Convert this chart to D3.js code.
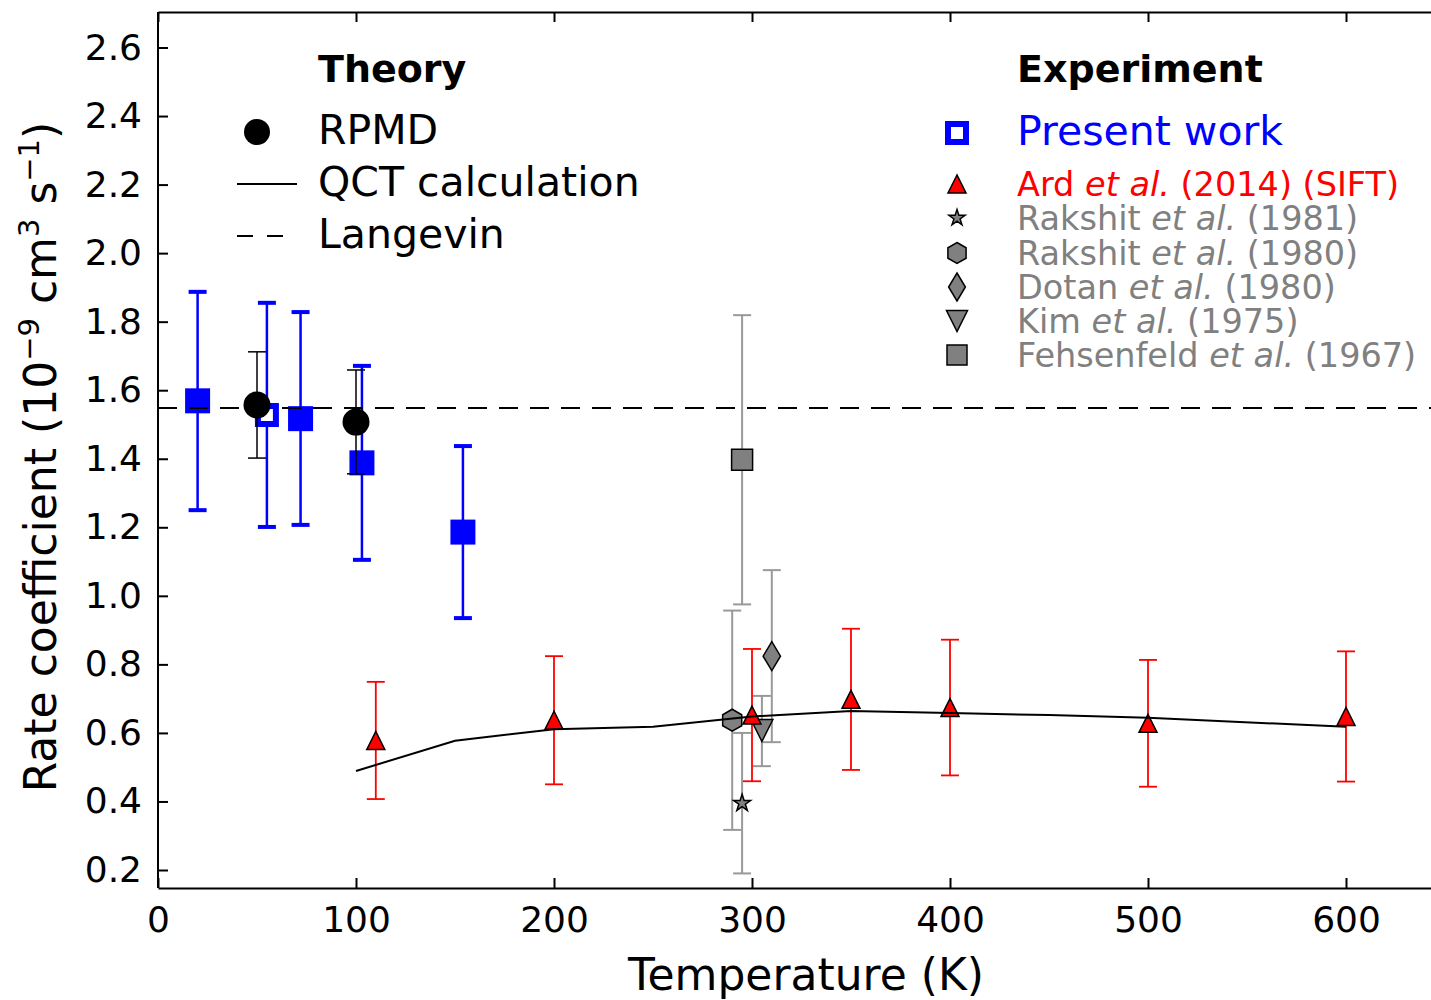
<!DOCTYPE html>
<html>
<head>
<meta charset="utf-8">
<script src="https://cdn.jsdelivr.net/npm/d3@7"></script>
<style>
  body { margin: 0; background: #fff; }
  text { font-family: "DejaVu Sans", sans-serif; }
</style>
</head>
<body>
<svg></svg>
<script>
    const svgWidth = 1431;
    const svgHeight = 1000;

    // --- data (T in K, k in 1e-9 cm3 s-1) ---
    const xTicks = [0, 100, 200, 300, 400, 500, 600];
    const yTicks = [0.2, 0.4, 0.6, 0.8, 1.0, 1.2, 1.4, 1.6, 1.8, 2.0, 2.2, 2.4, 2.6];

    // present work (blue squares); the 55 K point is drawn open
    const presentT = [20, 55, 72, 103, 154];
    const presentK = [1.569, 1.528, 1.517, 1.388, 1.186];
    const presentLo = [1.250, 1.201, 1.207, 1.105, 0.935];
    const presentHi = [1.887, 1.855, 1.828, 1.671, 1.437];
    const presentOpen = [false, true, false, false, false];

    // RPMD
    const rpmdT = [50, 100];
    const rpmdK = [1.557, 1.507];
    const rpmdLo = [1.402, 1.356];
    const rpmdHi = [1.712, 1.659];

    // QCT calculation
    const qctT = [100, 150, 200, 250, 300, 350, 400, 450, 500, 600];
    const qctK = [0.489, 0.577, 0.611, 0.618, 0.648, 0.664, 0.658, 0.652, 0.644, 0.618];

    // Langevin
    const langevinK = 1.548;

    // Ard et al. (2014) SIFT
    const ardT = [110, 200, 300, 350, 400, 500, 600];
    const ardK = [0.578, 0.637, 0.652, 0.698, 0.674, 0.628, 0.648];
    const ardErr = [0.171, 0.187, 0.193, 0.206, 0.198, 0.185, 0.190];

    // older experiments (grey)
    const oldNames = ["Rakshit1981", "Rakshit1980", "Dotan1980", "Kim1975", "Fehsenfeld1967"];
    const oldT = [295, 290, 310, 305, 295];
    const oldK = [0.395, 0.637, 0.824, 0.607, 1.397];
    const oldLo = [0.190, 0.317, 0.573, 0.503, 0.975];
    const oldHi = [0.600, 0.957, 1.075, 0.708, 1.819];
    const oldMarker = ["star", "hexagon", "thinDiamond", "triangleDown", "square"];

    const svg = d3.select("svg")
        .attr("width", svgWidth)
        .attr("height", svgHeight);

    svg.append("rect").attr("width", svgWidth).attr("height", svgHeight).attr("fill", "white");

    const plotLeft = 158, plotTop = 12, plotBottom = 888;
    const x = d3.scaleLinear().domain([0, 655]).range([plotLeft, plotLeft + 655 * 1.98]);
    const y = d3.scaleLinear().domain([0.2, 2.6]).range([870, 47.5]);

    // marker shapes, s = nominal size in px
    function markerPath(type, s) {
        const h = s / 2;
        let pts;
        if (type === "circle") {
            const p = d3.path();
            p.arc(0, 0, h, 0, 2 * Math.PI);
            return p.toString();
        }
        if (type === "square") pts = [[-h, -h], [h, -h], [h, h], [-h, h]];
        if (type === "triangleUp") pts = [[0, -h], [-h, h], [h, h]];
        if (type === "triangleDown") pts = [[0, h], [-h, -h], [h, -h]];
        if (type === "thinDiamond") pts = [[0, -h], [0.6 * h, 0], [0, h], [-0.6 * h, 0]];
        if (type === "hexagon") pts = d3.range(6).map(i => {
            const a = -Math.PI / 2 + i * Math.PI / 3;
            return [h * Math.cos(a), h * Math.sin(a)];
        });
        if (type === "star") pts = d3.range(10).map(i => {
            const a = -Math.PI / 2 + i * Math.PI / 5;
            const r = i % 2 === 0 ? h : h * 0.382;
            return [r * Math.cos(a), r * Math.sin(a)];
        });
        return "M" + pts.map(p => p.join(",")).join("L") + "Z";
    }

    const oldSize = {star: 18, hexagon: 22, thinDiamond: 29, triangleDown: 22, square: 21};

    svg.append("clipPath").attr("id", "plotclip")
        .append("rect").attr("x", plotLeft).attr("y", plotTop).attr("width", svgWidth).attr("height", plotBottom - plotTop);

    const plot = svg.append("g").attr("clip-path", "url(#plotclip)");

    function errorBars(g, xs, lo, hi, color, width, capWidth) {
        const grp = g.append("g").attr("stroke", color).attr("fill", "none");
        xs.forEach((t, i) => {
            grp.append("line")
                .attr("x1", x(t)).attr("x2", x(t))
                .attr("y1", y(lo[i])).attr("y2", y(hi[i]))
                .attr("stroke-width", width);
            [lo[i], hi[i]].forEach(v => {
                grp.append("line")
                    .attr("x1", x(t) - 9).attr("x2", x(t) + 9)
                    .attr("y1", y(v)).attr("y2", y(v))
                    .attr("stroke-width", capWidth);
            });
        });
    }

    // present work
    errorBars(plot, presentT, presentLo, presentHi, "#0000ff", 2.5, 4);
    plot.selectAll(".present")
        .data(presentT)
        .enter().append("path")
        .attr("transform", (d, i) => `translate(${x(d)},${y(presentK[i])})`)
        .attr("d", (d, i) => presentOpen[i] ? markerPath("square", 18) : markerPath("square", 25))
        .attr("fill", (d, i) => presentOpen[i] ? "white" : "#0000ff")
        .attr("stroke", "#0000ff")
        .attr("stroke-width", (d, i) => presentOpen[i] ? 6 : 0);

    // Langevin
    plot.append("line")
        .attr("x1", plotLeft).attr("x2", svgWidth)
        .attr("y1", y(langevinK)).attr("y2", y(langevinK))
        .attr("stroke", "black").attr("stroke-width", 2)
        .attr("stroke-dasharray", "19,12");

    // older experiments
    errorBars(plot, oldT, oldLo, oldHi, "#999999", 2, 2);
    plot.selectAll(".old")
        .data(oldT)
        .enter().append("path")
        .attr("transform", (d, i) => `translate(${x(d)},${y(oldK[i])})`)
        .attr("d", (d, i) => markerPath(oldMarker[i], oldSize[oldMarker[i]]))
        .attr("fill", "#808080")
        .attr("stroke", "black")
        .attr("stroke-width", 1.5);

    // Ard et al.
    errorBars(plot, ardT, ardK.map((k, i) => k - ardErr[i]), ardK.map((k, i) => k + ardErr[i]), "#ff0000", 1.8, 1.8);
    plot.selectAll(".ard")
        .data(ardT)
        .enter().append("path")
        .attr("transform", (d, i) => `translate(${x(d)},${y(ardK[i])})`)
        .attr("d", markerPath("triangleUp", 18))
        .attr("fill", "#ff0000")
        .attr("stroke", "black")
        .attr("stroke-width", 1.5);

    // QCT
    const qctLine = d3.line().x(d => x(d[0])).y(d => y(d[1]));
    plot.append("path")
        .datum(qctT.map((t, i) => [t, qctK[i]]))
        .attr("d", qctLine)
        .attr("fill", "none")
        .attr("stroke", "black")
        .attr("stroke-width", 2);

    // RPMD
    errorBars(plot, rpmdT, rpmdLo, rpmdHi, "black", 1.5, 1.5);
    plot.selectAll(".rpmd")
        .data(rpmdT)
        .enter().append("path")
        .attr("transform", (d, i) => `translate(${x(d)},${y(rpmdK[i])})`)
        .attr("d", markerPath("circle", 27))
        .attr("fill", "black");

    // --- axes ---
    const xAxis = svg.append("g")
        .attr("transform", `translate(0,${plotBottom})`)
        .call(d3.axisBottom(x).tickValues(xTicks).tickSize(-10).tickSizeOuter(0).tickPadding(18));
    const xTop = svg.append("g")
        .attr("transform", `translate(0,${plotTop})`)
        .call(d3.axisTop(x).tickValues(xTicks).tickSize(-10).tickSizeOuter(0).tickFormat(""));
    const yAxis = svg.append("g")
        .attr("transform", `translate(${plotLeft},0)`)
        .call(d3.axisLeft(y).tickValues(yTicks).tickSize(-10).tickSizeOuter(0).tickPadding(16).tickFormat(d3.format(".1f")));

    yAxis.select(".domain").attr("d", `M0,${plotBottom}V${plotTop}`);
    [xAxis, xTop, yAxis].forEach(a => {
        a.select(".domain").attr("stroke-width", 2);
        a.selectAll(".tick line").attr("stroke-width", 2);
        a.selectAll("text").attr("font-size", 36).attr("font-family", "DejaVu Sans").attr("fill", "black");
    });

    svg.append("text")
        .attr("x", 806).attr("y", 990)
        .attr("text-anchor", "middle")
        .attr("font-size", 44)
        .text("Temperature (K)");

    const yLabel = svg.append("text")
        .attr("transform", "translate(56,457) rotate(-90)")
        .attr("text-anchor", "middle")
        .attr("font-size", 44);
    yLabel.append("tspan").text("Rate coefficient (10");
    yLabel.append("tspan").attr("baseline-shift", "super").attr("font-size", 29).text("\u22129");
    yLabel.append("tspan").text(" cm");
    yLabel.append("tspan").attr("baseline-shift", "super").attr("font-size", 29).text("3");
    yLabel.append("tspan").text(" s");
    yLabel.append("tspan").attr("baseline-shift", "super").attr("font-size", 29).text("\u22121");
    yLabel.append("tspan").text(")");

    // --- legends ---
    const theory = svg.append("g");
    theory.append("text").attr("x", 318).attr("y", 82).attr("font-size", 38).attr("font-weight", "bold").text("Theory");
    theory.append("path").attr("transform", "translate(257,132)").attr("d", markerPath("circle", 26)).attr("fill", "black");
    theory.append("text").attr("x", 318).attr("y", 144).attr("font-size", 41).text("RPMD");
    theory.append("line").attr("x1", 237).attr("x2", 297).attr("y1", 184).attr("y2", 184)
        .attr("stroke", "black").attr("stroke-width", 2);
    theory.append("text").attr("x", 318).attr("y", 196).attr("font-size", 41).text("QCT calculation");
    theory.append("line").attr("x1", 237).attr("x2", 297).attr("y1", 236).attr("y2", 236)
        .attr("stroke", "black").attr("stroke-width", 2).attr("stroke-dasharray", "16,14");
    theory.append("text").attr("x", 318).attr("y", 248).attr("font-size", 41).text("Langevin");

    const expt = svg.append("g");
    expt.append("text").attr("x", 1017).attr("y", 82).attr("font-size", 38).attr("font-weight", "bold").text("Experiment");
    expt.append("path").attr("transform", "translate(957,133)").attr("d", markerPath("square", 18))
        .attr("fill", "white").attr("stroke", "#0000ff").attr("stroke-width", 6);
    expt.append("text").attr("x", 1017).attr("y", 145).attr("font-size", 41).attr("fill", "#0000ff").text("Present work");

    const exptNames = ["Ard", "Rakshit", "Rakshit", "Dotan", "Kim", "Fehsenfeld"];
    const exptYears = ["(2014) (SIFT)", "(1981)", "(1980)", "(1980)", "(1975)", "(1967)"];
    const exptMarkers = ["triangleUp", "star", "hexagon", "thinDiamond", "triangleDown", "square"];
    const exptRowY = [184, 218, 253, 287, 321, 355];

    exptNames.forEach((name, i) => {
        const color = i === 0 ? "#ff0000" : "#808080";
        const m = exptMarkers[i];
        expt.append("path")
            .attr("transform", `translate(957,${exptRowY[i]})`)
            .attr("d", markerPath(m, m === "triangleUp" ? 18 : oldSize[m] - 1))
            .attr("fill", i === 0 ? "#ff0000" : "#808080")
            .attr("stroke", "black").attr("stroke-width", 1.5);
        const t = expt.append("text")
            .attr("x", 1017).attr("y", exptRowY[i] + 12)
            .attr("font-size", 33.5).attr("fill", color);
        t.append("tspan").text(name + " ");
        t.append("tspan").attr("font-style", "italic").text("et al.");
        t.append("tspan").text(" " + exptYears[i]);
    });
</script>
</body>
</html>
